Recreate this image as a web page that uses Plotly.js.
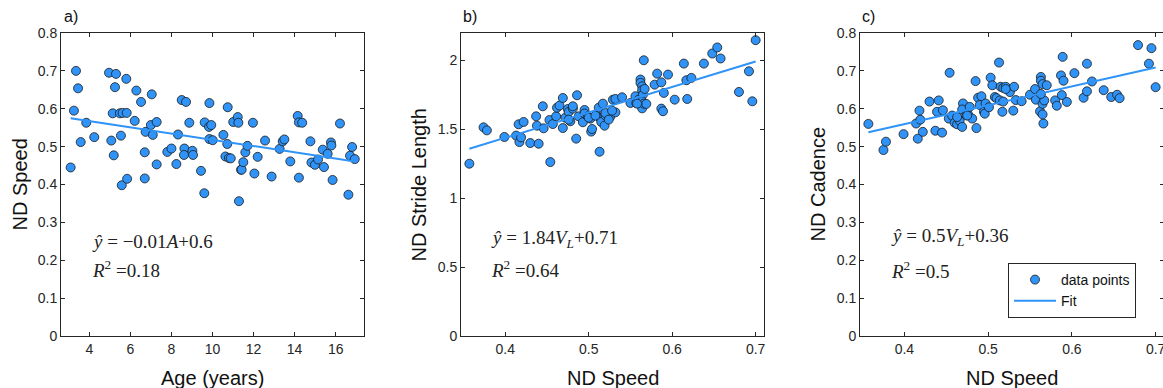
<!DOCTYPE html>
<html>
<head>
<meta charset="utf-8">
<script src="https://cdn.plot.ly/plotly-3.0.1.min.js"></script>
<style>
html,body{margin:0;padding:0;overflow:hidden;background:#fff;}
#chart{width:1170px;height:388px;}
</style>
</head>
<body>
<div id="chart"></div>
<script>
// ---------- Panel a: Age vs ND Speed ----------
const ageA = [3.09,3.25,3.35,3.45,3.58,3.85,4.24,4.96,5.30,5.25,5.14,5.07,5.19,5.49,5.62,5.82,5.80,5.54,5.58,5.84,
  6.21,6.29,6.52,6.74,6.70,6.70,7.04,7.00,7.09,7.28,7.28,7.80,8.00,8.24,8.32,8.50,8.71,8.63,8.61,8.87,
  9.02,9.05,9.44,9.60,9.62,9.85,9.83,9.94,9.85,10.01,10.53,10.63,10.74,10.72,10.80,10.89,11.01,11.23,11.26,11.29,
  11.39,11.42,11.50,11.60,11.70,11.97,12.04,12.20,12.56,12.88,13.27,13.42,13.50,13.79,14.15,14.21,14.21,14.37,14.77,14.82,
  14.99,15.14,15.37,15.43,15.61,15.77,15.79,15.85,16.21,16.62,16.70,16.80,16.93];
const speedA = [0.445,0.595,0.700,0.654,0.512,0.563,0.525,0.695,0.692,0.657,0.588,0.516,0.477,0.588,0.589,0.589,0.679,0.529,0.398,0.415,
  0.568,0.648,0.618,0.539,0.485,0.416,0.638,0.557,0.531,0.565,0.453,0.486,0.495,0.454,0.532,0.623,0.618,0.495,0.478,0.563,
  0.489,0.478,0.436,0.377,0.564,0.615,0.552,0.557,0.520,0.517,0.531,0.474,0.604,0.507,0.470,0.469,0.565,0.578,0.563,0.356,
  0.439,0.439,0.459,0.485,0.502,0.563,0.429,0.473,0.516,0.421,0.494,0.514,0.519,0.461,0.581,0.564,0.418,0.563,0.514,0.458,
  0.452,0.466,0.492,0.446,0.481,0.511,0.503,0.412,0.561,0.373,0.476,0.499,0.467];
const fitAx = [3.09, 16.93];
const fitAy = [0.575, 0.461];

// ---------- Panel b: ND Speed vs ND Stride Length ----------
const speedB = [0.357,0.374,0.378,0.399,0.413,0.416,0.422,0.417,0.419,0.430,0.437,0.438,0.440,0.445,0.446,0.454,0.453,0.457,0.461,0.462,
  0.465,0.469,0.469,0.472,0.475,0.476,0.478,0.481,0.481,0.486,0.485,0.488,0.493,0.495,0.495,0.499,0.502,0.503,0.504,0.509,
  0.513,0.512,0.514,0.515,0.517,0.519,0.520,0.523,0.526,0.529,0.532,0.532,0.540,0.550,0.556,0.557,0.560,0.562,0.562,0.564,
  0.564,0.565,0.564,0.564,0.566,0.566,0.569,0.567,0.579,0.582,0.587,0.587,0.589,0.590,0.595,0.603,0.614,0.617,0.618,0.623,
  0.638,0.648,0.654,0.658,0.680,0.692,0.696,0.700,0.476,0.500,0.508,0.520,0.524,0.528,0.558];
const strideB = [1.251,1.515,1.493,1.445,1.455,1.537,1.554,1.408,1.442,1.401,1.595,1.527,1.396,1.668,1.508,1.263,1.568,1.539,1.595,1.658,
  1.673,1.728,1.510,1.585,1.648,1.627,1.559,1.651,1.668,1.748,1.433,1.595,1.552,1.641,1.615,1.595,1.578,1.484,1.503,1.605,
  1.338,1.658,1.581,1.554,1.687,1.527,1.602,1.612,1.593,1.716,1.721,1.624,1.733,1.692,1.741,1.692,1.716,1.862,1.838,1.813,
  1.784,1.753,1.704,1.653,1.687,2.002,1.685,1.794,1.825,1.905,1.842,1.651,1.632,1.765,1.898,1.716,1.978,1.857,1.721,1.874,
  1.978,2.051,2.095,2.015,1.772,1.922,1.704,2.148,1.571,1.585,1.600,1.619,1.571,1.636,1.687];
const fitBx = [0.357, 0.700];
const fitBy = [1.360, 1.993];

// ---------- Panel c: ND Speed vs ND Cadence ----------
const speedC = [0.357,0.375,0.378,0.399,0.414,0.418,0.419,0.416,0.422,0.430,0.441,0.439,0.437,0.445,0.446,0.454,0.453,0.457,0.460,0.463,
  0.466,0.470,0.469,0.469,0.474,0.476,0.478,0.481,0.485,0.486,0.488,0.492,0.490,0.495,0.496,0.497,0.501,0.503,0.505,0.508,
  0.510,0.513,0.514,0.515,0.517,0.518,0.521,0.518,0.526,0.530,0.531,0.533,0.540,0.550,0.556,0.557,0.562,0.563,0.563,0.565,
  0.566,0.565,0.567,0.563,0.570,0.565,0.580,0.582,0.589,0.587,0.590,0.588,0.594,0.603,0.614,0.618,0.618,0.624,0.638,0.647,
  0.654,0.657,0.679,0.692,0.695,0.700,0.463,0.475,0.521];
const cadenceC = [0.560,0.491,0.513,0.533,0.561,0.595,0.571,0.521,0.539,0.619,0.622,0.592,0.542,0.537,0.596,0.695,0.574,0.582,0.563,0.559,
  0.568,0.614,0.598,0.552,0.583,0.585,0.605,0.574,0.673,0.549,0.629,0.633,0.610,0.592,0.587,0.614,0.604,0.682,0.662,0.631,
  0.628,0.722,0.622,0.658,0.592,0.655,0.658,0.619,0.644,0.595,0.658,0.623,0.620,0.637,0.652,0.624,0.593,0.684,0.674,0.665,
  0.561,0.613,0.622,0.639,0.662,0.585,0.622,0.608,0.737,0.688,0.674,0.636,0.618,0.694,0.629,0.719,0.646,0.672,0.649,0.631,
  0.637,0.628,0.768,0.719,0.760,0.657,0.578,0.582,0.652];
const fitCx = [0.357, 0.700];
const fitCy = [0.538, 0.709];

const axisTitles = {a: ['Age (years)', 'ND Speed'], b: ['ND Speed', 'ND Stride Length'], c: ['ND Speed', 'ND Cadence']};
const panelLabels = ['a)', 'b)', 'c)'];
const equations = [
  ['<i>ŷ</i> = −0.01<i>A</i>+0.6', '<i>R</i><sup>2</sup> =0.18'],
  ['<i>ŷ</i> = 1.84<i>V<sub>L</sub></i>+0.71', '<i>R</i><sup>2</sup> =0.64'],
  ['<i>ŷ</i> = 0.5<i>V<sub>L</sub></i>+0.36', '<i>R</i><sup>2</sup> =0.5']
];

// ---------- layout helpers ----------
const W = 1170, H = 388;
const px = v => v / W;
const py = v => 1 - v / H;
const BLUE = '#2f93f7';
const AXC = '#262626';

function markerTrace(x, y, xa, ya, show) {
  return {x, y, xaxis: xa, yaxis: ya, type: 'scatter', mode: 'markers', name: 'data points',
    showlegend: show,
    marker: {size: 9, color: BLUE, line: {color: '#1a1a1a', width: 0.8}}};
}
function lineTrace(x, y, xa, ya, show) {
  return {x, y, xaxis: xa, yaxis: ya, type: 'scatter', mode: 'lines', name: 'Fit',
    showlegend: show, line: {color: BLUE, width: 2}};
}

const data = [
  markerTrace(ageA, speedA, 'x', 'y', false),
  lineTrace(fitAx, fitAy, 'x', 'y', false),
  markerTrace(speedB, strideB, 'x2', 'y2', false),
  lineTrace(fitBx, fitBy, 'x2', 'y2', false),
  markerTrace(speedC, cadenceC, 'x3', 'y3', true),
  lineTrace(fitCx, fitCy, 'x3', 'y3', true)
];

function axis(dom, range, dtick, anchor) {
  return {domain: dom, range: range, dtick: dtick, anchor: anchor,
    showgrid: false, zeroline: false, showline: true, linecolor: AXC, linewidth: 1,
    mirror: 'ticks', ticks: 'inside', ticklen: 4, tickcolor: AXC,
    tickfont: {family: 'Liberation Sans, Arial, sans-serif', size: 14, color: AXC}};
}
const yDom = [py(336), py(33)];
const layout = {
  width: W, height: H,
  margin: {l: 0, r: 0, t: 0, b: 0},
  paper_bgcolor: '#fff', plot_bgcolor: '#fff',
  showlegend: true,
  legend: {x: px(1008), y: py(263), xanchor: 'left', yanchor: 'top',
    bordercolor: AXC, borderwidth: 1, bgcolor: '#fff',
    font: {family: 'Liberation Sans, Arial, sans-serif', size: 14, color: '#111'},
    itemwidth: 42, tracegroupgap: 0, entrywidth: 85, entrywidthmode: 'pixels'},
  xaxis: axis([px(61), px(364)], [2.62, 17.38], 2, 'y'),
  yaxis: axis(yDom, [0, 0.8], 0.1, 'x'),
  xaxis2: axis([px(461), px(764)], [0.347, 0.71], 0.1, 'y2'),
  yaxis2: axis(yDom, [0, 2.2], 0.5, 'x2'),
  xaxis3: axis([px(860), px(1164)], [0.347, 0.71], 0.1, 'y3'),
  yaxis3: axis(yDom, [0, 0.8], 0.1, 'x3'),
  annotations: []
};

const sansT = {family: 'Liberation Sans, Arial, sans-serif', size: 20, color: '#111'};
const serif = {family: 'Liberation Serif, DejaVu Serif, serif', size: 19, color: '#222'};
function ann(text, x, y, font, extra) {
  layout.annotations.push(Object.assign({text, x: px(x), y: py(y), xref: 'paper', yref: 'paper',
    showarrow: false, font}, extra || {}));
}
// x titles
ann(axisTitles.a[0], 212.5, 378, sansT, {xanchor: 'center', yanchor: 'middle'});
ann(axisTitles.b[0], 612.5, 378, sansT, {xanchor: 'center', yanchor: 'middle'});
ann(axisTitles.c[0], 1012, 378, sansT, {xanchor: 'center', yanchor: 'middle'});
// y titles
ann(axisTitles.a[1], 19.5, 185, sansT, {textangle: -90, xanchor: 'center', yanchor: 'middle'});
ann(axisTitles.b[1], 418, 185.5, sansT, {textangle: -90, xanchor: 'center', yanchor: 'middle'});
ann(axisTitles.c[1], 817, 184.5, sansT, {textangle: -90, xanchor: 'center', yanchor: 'middle'});
// panel labels
const lab = {family: 'Liberation Sans, Arial, sans-serif', size: 16, color: '#111'};
ann(panelLabels[0], 62, 17, lab, {xanchor: 'left', yanchor: 'middle'});
ann(panelLabels[1], 461, 17, lab, {xanchor: 'left', yanchor: 'middle'});
ann(panelLabels[2], 860, 17, lab, {xanchor: 'left', yanchor: 'middle'});
// equations
const eqPos = [[90, 241, 269], [489, 239, 269], [889, 237, 270]];
equations.forEach((e, i) => {
  ann(e[0], eqPos[i][0], eqPos[i][1], serif, {xanchor: 'left', yanchor: 'middle'});
  ann(e[1], eqPos[i][0], eqPos[i][2], serif, {xanchor: 'left', yanchor: 'middle'});
});

Plotly.newPlot('chart', data, layout, {displayModeBar: false, staticPlot: true});
</script>
</body>
</html>
